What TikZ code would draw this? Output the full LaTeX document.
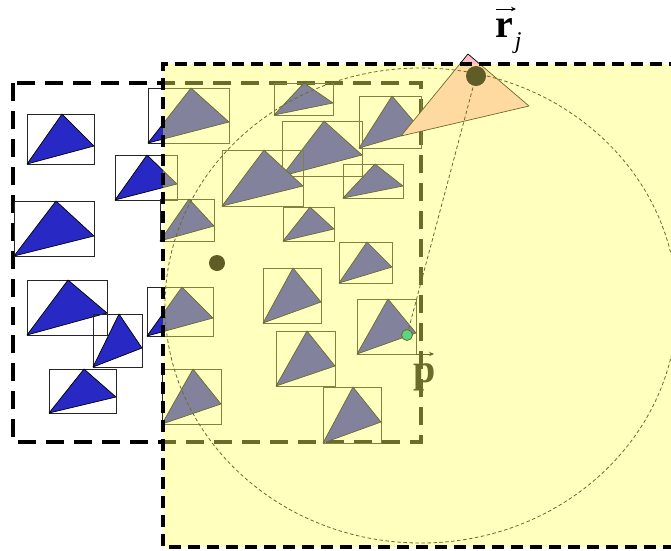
\documentclass[tikz,border=0pt]{standalone}
\usepackage{fontspec}
\setmainfont{Liberation Serif}
\usetikzlibrary{arrows.meta}
\definecolor{triblue}{RGB}{40,40,196}
\definecolor{pinkc}{RGB}{255,192,203}
\definecolor{yelov}{RGB}{255,255,102}
\definecolor{dotc}{RGB}{95,92,38}
\definecolor{greenc}{RGB}{90,215,125}
\definecolor{olivec}{RGB}{107,107,43}
\tikzset{
  boxline/.style={draw=black!85, line width=0.8pt},
  tri/.style={fill=triblue, draw=black, line width=0.7pt, line join=round},
  leftrect/.style={draw=black, line width=4pt, dash pattern=on 18pt off 10pt},
  yelrect/.style={draw=black, line width=4pt, dash pattern=on 12pt off 7pt},
  thindash/.style={draw=black, line width=0.8pt, dash pattern=on 3.5pt off 2.5pt},
  dotnode/.style={circle, fill=dotc, inner sep=0pt, minimum size=#1},
  lab/.style={inner sep=0pt, font=\fontsize{40}{46}\selectfont},
  vecarrow/.style={line width=0.9pt, -{Stealth[length=5pt,width=4.5pt]}}
}
\newcommand\tribox[6]{%
  \draw[boxline] (#1,#2) rectangle (#3,#4);
  \draw[tri] (#1,#4) -- (#5,#2) -- (#3,#6) -- cycle;}
\begin{document}
\begin{tikzpicture}[x=1pt,y=-1pt]
\useasboundingbox (0,0) rectangle (671,550);
\clip (0,0) rectangle (671,550);
\fill[white] (0,0) rectangle (671,550);
% left dashed region
\draw[leftrect] (13,83) rectangle (421,442);
% triangles in boxes
\tribox{27}{114}{94}{164}{62}{146}
\tribox{14}{201}{94}{256}{56}{236}
\tribox{148}{88}{229}{143}{191}{122}
\tribox{115}{155}{177}{200}{147}{184}
\tribox{160}{199}{214}{241}{189}{226}
\tribox{27}{280}{107}{335}{68}{313}
\tribox{93}{314}{142}{367}{119}{348}
\tribox{49}{369}{116}{413}{84}{397}
\tribox{147}{287}{213}{336}{182}{318}
\tribox{162}{369}{221}{424}{193}{404}
\tribox{274}{83}{333}{115}{304}{103}
\tribox{282}{121}{362}{176}{324}{155}
\tribox{222}{150}{303}{206}{264}{186}
\tribox{359}{96}{421}{148}{392}{130}
\tribox{343}{164}{403}{198}{375}{186}
\tribox{283}{207}{334}{241}{310}{229}
\tribox{339}{242}{392}{283}{367}{267}
\tribox{263}{268}{321}{323}{293}{302}
\tribox{357}{299}{416}{354}{388}{333}
\tribox{276}{331}{335}{386}{307}{366}
\tribox{323}{387}{381}{443}{353}{422}
% pink triangle
\draw[fill=pinkc, draw=black, line width=0.7pt, line join=round] (468,54) -- (529,106) -- (401,136) -- cycle;
% ellipse and connector
\coordinate (rj) at (476,76);
\coordinate (pt) at (407,335);
\coordinate (cl) at (217,263);
\draw[thindash] (421,305.5) ellipse [x radius=256, y radius=237.5];
\draw[thindash] (rj) -- (pt);
% p label
\node[lab, anchor=base west] (plabel) at (413,382) {\textbf{p}};
\draw[vecarrow] (416,354) -- (434,354);
% yellow overlay
\fill[yelov, fill opacity=0.42] (163,64) rectangle (700,547);
\draw[yelrect] (700,64) -- (163,64) -- (163,547) -- (700,547);
% dots
\node[dotnode=20pt] (rjdot) at (rj) {};
\node[dotnode=16pt] (cldot) at (cl) {};
\node[circle, fill=greenc, draw=olivec, line width=0.8pt, inner sep=0pt, minimum size=11pt] (ptdot) at (pt) {};
% r_j label
\node[lab, anchor=base west] (rlabel) at (495,37) {\textbf{r}\kern2pt\raisebox{-11pt}{\fontsize{24}{24}\selectfont\itshape j}};
\draw[vecarrow] (496,9) -- (516,9);
\end{tikzpicture}
\end{document}
